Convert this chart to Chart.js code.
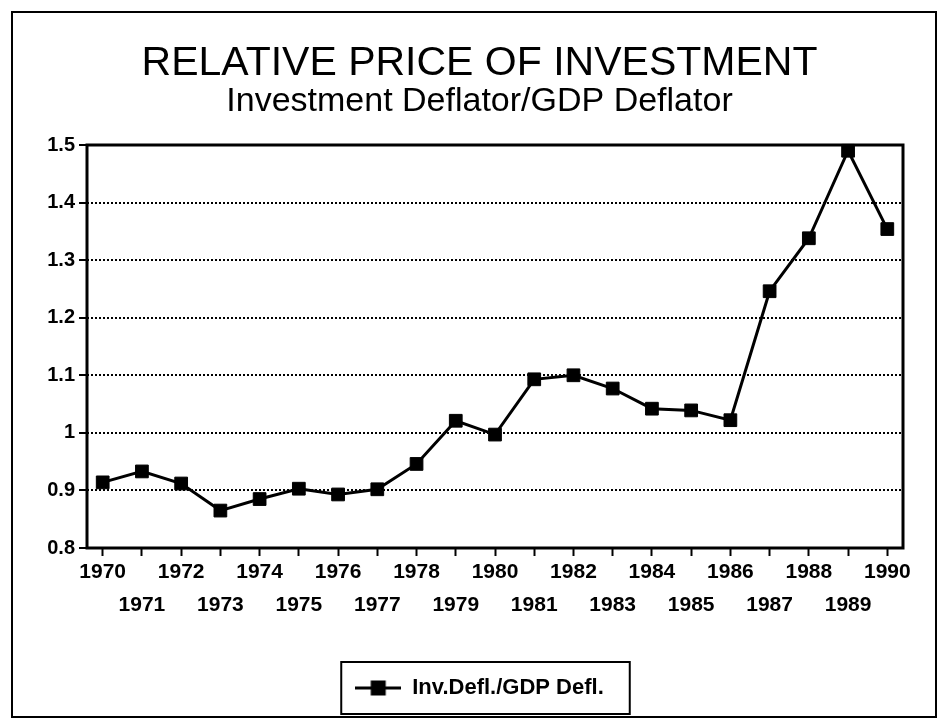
<!DOCTYPE html>
<html>
<head>
<meta charset="utf-8">
<title>Relative Price of Investment</title>
<script src="https://cdn.jsdelivr.net/npm/chart.js@4.4.1/dist/chart.umd.min.js"></script>
<style>
  html, body { margin: 0; padding: 0; background: #fff; }
  #wrap { position: relative; width: 939px; height: 720px; }
</style>
</head>
<body>
<div id="wrap"><canvas id="myChart"></canvas></div>
<script>
// Values
const years = [1970, 1971, 1972, 1973, 1974, 1975, 1976, 1977, 1978, 1979, 1980,
               1981, 1982, 1983, 1984, 1985, 1986, 1987, 1988, 1989, 1990];
const ratio = [0.914, 0.933, 0.912, 0.865, 0.885, 0.903, 0.893, 0.902, 0.946, 1.021, 0.997,
               1.093, 1.100, 1.077, 1.042, 1.039, 1.022, 1.246, 1.338, 1.490, 1.354];
const yTicks = [0.8, 0.9, 1.0, 1.1, 1.2, 1.3, 1.4, 1.5];

const titleText = 'RELATIVE PRICE OF INVESTMENT';
const subtitleText = 'Investment Deflator/GDP Deflator';
const seriesLabel = 'Inv.Defl./GDP Defl.';

const FONT = "'Liberation Sans', Arial, sans-serif";

// little line + square for the legend
function legendSymbol() {
    const c = document.createElement('canvas');
    c.width = 46;
    c.height = 16;
    const g = c.getContext('2d');
    g.fillStyle = '#000';
    g.fillRect(0, 6.5, 46, 3);
    g.fillRect(15.5, 0.5, 15, 15);
    return c;
}

// plot frame, page border and the box around the legend
const framePlugin = {
    id: 'frame',
    beforeDatasetsDraw(chart) {
        const { ctx, chartArea: a } = chart;
        ctx.save();
        ctx.lineWidth = 3;
        ctx.strokeStyle = '#000';
        ctx.strokeRect(a.left, a.top, a.right - a.left, a.bottom - a.top);
        ctx.restore();
    },
    afterDraw(chart) {
        const ctx = chart.ctx;
        ctx.save();
        ctx.lineWidth = 2;
        ctx.strokeStyle = '#000';
        ctx.strokeRect(12, 12, 924, 705);
        const hb = chart.legend.legendHitBoxes[0];
        if (hb) {
            ctx.strokeRect(hb.left - 14, hb.top - 15, hb.width + 40, hb.height + 30);
        }
        ctx.restore();
    }
};

const ctx = document.getElementById('myChart');

new Chart(ctx, {
    type: 'line',
    data: {
        datasets: [{
            label: seriesLabel,
            data: years.map((yr, i) => ({ x: yr, y: ratio[i] })),
            borderColor: '#000',
            backgroundColor: '#000',
            borderWidth: 3,
            pointStyle: 'rect',
            pointRadius: 9,
            pointBorderWidth: 1,
            pointBackgroundColor: '#000',
            pointBorderColor: '#000',
            tension: 0,
            clip: false
        }]
    },
    options: {
        responsive: true,
        maintainAspectRatio: false,
        devicePixelRatio: 1,
        animation: false,
        layout: { padding: { left: 20, right: 0, top: 0, bottom: 11 } },
        plugins: {
            title: {
                display: true,
                text: titleText,
                color: '#000',
                font: { family: FONT, size: 41, weight: 'normal', lineHeight: 1.0 },
                padding: { top: 43, bottom: 0 }
            },
            subtitle: {
                display: true,
                text: subtitleText,
                color: '#000',
                font: { family: FONT, size: 34, weight: 'normal', lineHeight: 1.0 },
                padding: { top: 1, bottom: 26 }
            },
            legend: {
                position: 'bottom',
                labels: {
                    color: '#000',
                    font: { family: FONT, size: 22, weight: 'bold' },
                    padding: 15,
                    usePointStyle: true,
                    pointStyle: legendSymbol(),
                    pointStyleWidth: 46
                }
            },
            tooltip: { enabled: false }
        },
        scales: {
            x: {
                type: 'linear',
                min: years[0] - 0.4,
                max: years[years.length - 1] + 0.4,
                afterBuildTicks: axis => { axis.ticks = years.map(v => ({ value: v })); },
                afterFit: axis => { axis.height = 114; },
                grid: {
                    drawOnChartArea: false,
                    drawTicks: true,
                    tickLength: 8,
                    tickWidth: 2,
                    color: '#000'
                },
                border: { display: false },
                ticks: {
                    autoSkip: false,
                    minRotation: 0,
                    maxRotation: 0,
                    padding: 0,
                    color: '#000',
                    font: { family: FONT, size: 21, weight: 'bold', lineHeight: 1.57 },
                    // even years on the first row, odd years on the second
                    callback: v => (v % 2 === 0 ? [String(v), ''] : ['', String(v)])
                }
            },
            y: {
                min: yTicks[0],
                max: yTicks[yTicks.length - 1],
                afterBuildTicks: axis => { axis.ticks = yTicks.map(v => ({ value: v })); },
                afterFit: axis => { axis.width = 67; },
                grid: {
                    color: '#000',
                    lineWidth: 2,
                    tickLength: 8,
                    tickWidth: 2
                },
                border: { display: false, dash: [2, 2] },
                ticks: {
                    padding: 4,
                    color: '#000',
                    font: { family: FONT, size: 20, weight: 'bold' },
                    callback: v => String(Math.round(v * 10) / 10)
                }
            },
            // empty right-hand axis, only keeps the plot clear of the right border
            pad: {
                position: 'right',
                display: true,
                afterFit: axis => { axis.width = 36; },
                grid: { drawOnChartArea: false, drawTicks: false },
                border: { display: false },
                ticks: { display: false }
            }
        }
    },
    plugins: [framePlugin]
});
</script>
</body>
</html>
